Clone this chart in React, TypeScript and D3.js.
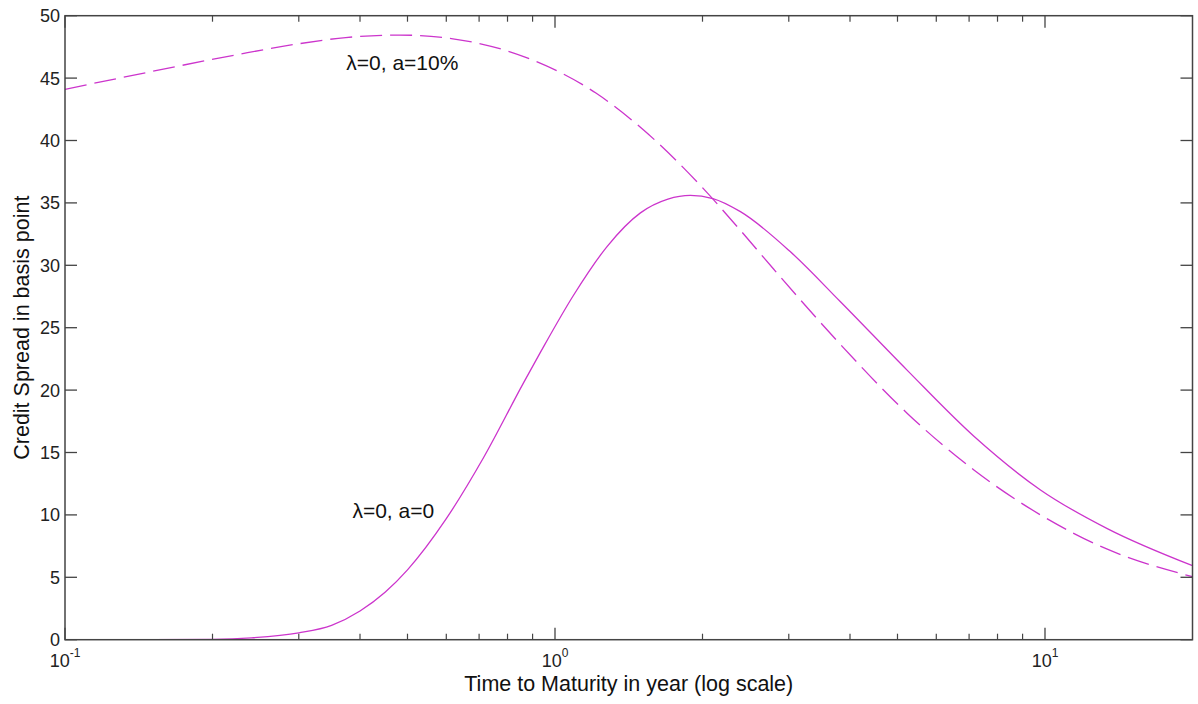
import React from "react";
import * as d3 from "d3";

// credit spread (bp) vs time to maturity (years)
const noCapTimes = [0.1, 0.15, 0.2, 0.24, 0.3, 0.35, 0.4, 0.45, 0.5, 0.6, 0.715, 0.863, 0.933, 1.091, 1.277, 1.494, 1.7, 1.889, 2.1, 2.39, 3.02, 3.82, 5.23, 7.16, 9.79, 13.4, 20];
const noCapSpread = [0, 0, 0.03, 0.15, 0.55, 1.15, 2.3, 3.8, 5.6, 9.7, 14.6, 20.6, 23.0, 27.6, 31.5, 34.2, 35.3, 35.6, 35.35, 34.3, 31.1, 27.1, 21.6, 16.3, 12.0, 8.9, 5.93];

const capTimes = [0.1, 0.149, 0.226, 0.3, 0.374, 0.481, 0.619, 0.866, 1.212, 1.5, 1.98, 2.39, 2.79, 3.27, 3.82, 5.23, 7.16, 9.79, 13.4, 20];
const capSpread = [44.1, 45.5, 46.9, 47.75, 48.25, 48.45, 48.15, 46.7, 43.8, 41.0, 36.4, 32.8, 29.72, 26.62, 23.68, 18.15, 13.6, 10.0, 7.25, 5.05];

const yTicks = [0, 5, 10, 15, 20, 25, 30, 35, 40, 45, 50];
const xMajor = [0.1, 1, 10];
const xMajorExp = ["-1", "0", "1"];
const xMinor = [0.2, 0.3, 0.4, 0.5, 0.6, 0.7, 0.8, 0.9, 2, 3, 4, 5, 6, 7, 8, 9];

const labels = [
  { text: "\u03bb=0, a=10%", t: 0.375, v: 45.65 },
  { text: "\u03bb=0, a=0", t: 0.386, v: 9.75 },
];

const W = 1198, H = 704;
const margin = { top: 15.7, right: 5.5, bottom: 64.3, left: 65 };
const FONT = "'Liberation Sans', Arial, sans-serif";
const LINE = "#cc35cc";
const AXIS = "#444";

export default function App() {
  const innerW = W - margin.left - margin.right;
  const innerH = H - margin.top - margin.bottom;

  const x = d3.scaleLog().domain([0.1, 20]).range([0, innerW]);
  const y = d3.scaleLinear().domain([0, 50]).range([innerH, 0]);

  const line = d3.line<[number, number]>()
    .x(d => x(d[0]))
    .y(d => y(d[1]))
    .curve(d3.curveMonotoneX);

  const noCapPath = line(noCapTimes.map((t, i) => [t, noCapSpread[i]])) || "";
  const capPath = line(capTimes.map((t, i) => [t, capSpread[i]])) || "";

  const majorLen = 12, minorLen = 6;

  return (
    <svg width={W} height={H} style={{ position: "absolute", left: 0, top: 0, background: "#fff" }}
      fontFamily={FONT}>
      <defs>
        <clipPath id="plot-clip">
          <rect x={0} y={0} width={innerW} height={innerH} />
        </clipPath>
      </defs>
      <g transform={`translate(${margin.left},${margin.top})`}>
        {/* curves */}
        <g clipPath="url(#plot-clip)">
          <path d={noCapPath} fill="none" stroke={LINE} strokeWidth={1.3} />
          <path d={capPath} fill="none" stroke={LINE} strokeWidth={1.3} strokeDasharray="22,8" />
        </g>

        {/* box */}
        <rect x={0} y={0} width={innerW} height={innerH} fill="none" stroke={AXIS} strokeWidth={1.5} />

        {/* y ticks, left and right */}
        {yTicks.map(v => (
          <g key={"y" + v}>
            <line x1={0} x2={majorLen} y1={y(v)} y2={y(v)} stroke={AXIS} strokeWidth={1.3} />
            <line x1={innerW} x2={innerW - majorLen} y1={y(v)} y2={y(v)} stroke={AXIS} strokeWidth={1.3} />
            <text x={-5} y={y(v)} dy="0.36em" textAnchor="end" fontSize={18} fill="#222">{v}</text>
          </g>
        ))}

        {/* x ticks, bottom and top */}
        {xMajor.map((t, i) => (
          <g key={"xm" + t}>
            <line x1={x(t)} x2={x(t)} y1={innerH} y2={innerH - majorLen} stroke={AXIS} strokeWidth={1.3} />
            <line x1={x(t)} x2={x(t)} y1={0} y2={majorLen} stroke={AXIS} strokeWidth={1.3} />
            <text x={x(t)} y={innerH + 27} textAnchor="middle" fontSize={18} fill="#222">
              10<tspan fontSize={12} dy={-10}>{xMajorExp[i]}</tspan>
            </text>
          </g>
        ))}
        {xMinor.map(t => (
          <g key={"xn" + t}>
            <line x1={x(t)} x2={x(t)} y1={innerH} y2={innerH - minorLen} stroke={AXIS} strokeWidth={1.2} />
            <line x1={x(t)} x2={x(t)} y1={0} y2={minorLen} stroke={AXIS} strokeWidth={1.2} />
          </g>
        ))}

        {/* curve annotations */}
        {labels.map(l => (
          <text key={l.text} x={x(l.t)} y={y(l.v)} fontSize={21} fill="#111">{l.text}</text>
        ))}
      </g>

      {/* axis labels */}
      <text x={margin.left + innerW / 2} y={691} textAnchor="middle" fontSize={21.5} fill="#111">
        Time to Maturity in year (log scale)
      </text>
      <text transform={`translate(29,${margin.top + innerH / 2}) rotate(-90)`} textAnchor="middle"
        fontSize={21.5} fill="#111">
        Credit Spread in basis point
      </text>
    </svg>
  );
}
